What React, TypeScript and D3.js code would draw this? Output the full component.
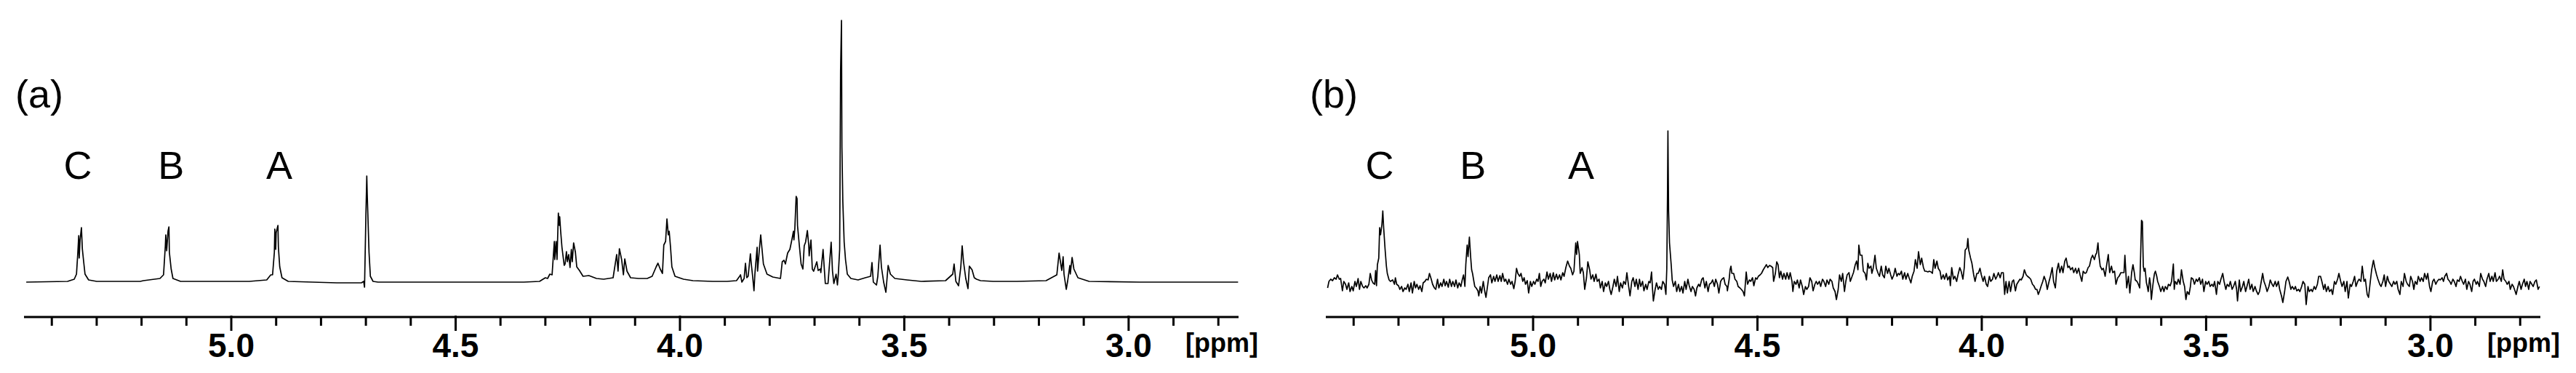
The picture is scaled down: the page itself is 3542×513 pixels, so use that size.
import React from 'react';
import * as d3 from 'd3';

const W = 3542;
const H = 513;

const panelLabels = ['(a)', '(b)'];
const signalLabels = ['C', 'B', 'A'];
const signalPpm = [5.342, 5.134, 4.893];
const majorTicks = [5.0, 4.5, 4.0, 3.5, 3.0];
const tickLabels = ['5.0', '4.5', '4.0', '3.5', '3.0'];
const minorTicks = [5.4, 5.3, 5.2, 5.1, 4.9, 4.8, 4.7, 4.6, 4.4, 4.3, 4.2, 4.1, 3.9, 3.8, 3.7, 3.6, 3.4, 3.3, 3.2, 3.1, 2.9, 2.8];
const ppmDomain = [5.462, 2.755];
const unitLabel = '[ppm]';

// (a) reference spectrum: [ppm, intensity]
const specA: [number, number][] = [
  [5.457,0],[5.365,1],[5.350,4],[5.345,11],[5.342,41],[5.340,64],[5.339,33],[5.337,58],[5.334,75],[5.332,46],[5.329,28],[5.326,11],[5.318,3],[5.300,1],
  [5.203,1],[5.196,2],[5.159,5],[5.151,10],[5.147,50],[5.146,65],[5.144,43],[5.141,70],[5.139,76],[5.138,41],[5.134,18],[5.130,5],[5.113,1],
  [4.960,1],[4.921,3],[4.912,10],[4.908,10],[4.904,41],[4.903,73],[4.901,45],[4.900,68],[4.896,78],[4.895,48],[4.892,21],[4.887,6],[4.873,1],
  [4.765,-1],[4.710,-1],[4.705,1],[4.703,-7],[4.700,91],[4.698,146],[4.697,121],[4.693,41],[4.690,8],[4.684,1],[4.673,0],
  [4.348,0],[4.313,1],[4.300,6],[4.295,5],[4.290,11],[4.285,10],[4.280,56],[4.279,31],[4.276,56],[4.274,31],[4.271,95],[4.269,78],[4.268,90],[4.266,71],
  [4.263,48],[4.258,23],[4.256,25],[4.253,42],[4.251,28],[4.248,38],[4.245,20],[4.242,45],[4.240,28],[4.237,54],[4.233,41],[4.230,21],[4.224,16],
  [4.216,8],[4.203,9],[4.186,5],[4.170,4],[4.149,6],[4.141,38],[4.138,15],[4.135,46],[4.130,31],[4.126,10],[4.123,32],[4.118,15],[4.110,6],
  [4.092,5],[4.073,5],[4.062,8],[4.053,21],[4.049,26],[4.044,18],[4.039,12],[4.036,51],[4.032,56],[4.029,87],[4.026,65],[4.024,70],[4.021,48],
  [4.018,21],[4.011,8],[3.992,4],[3.971,2],[3.927,1],[3.895,1],[3.874,2],[3.867,8],[3.865,10],[3.862,0],[3.857,5],[3.854,26],[3.851,6],[3.848,8],
  [3.843,39],[3.841,25],[3.838,8],[3.835,-12],[3.833,11],[3.828,48],[3.827,15],[3.823,45],[3.820,65],[3.817,45],[3.814,25],[3.806,11],[3.793,7],
  [3.776,5],[3.772,28],[3.768,30],[3.765,25],[3.760,40],[3.755,45],[3.754,48],[3.750,60],[3.747,70],[3.746,58],[3.744,73],[3.741,118],[3.739,115],
  [3.738,78],[3.734,51],[3.730,25],[3.726,18],[3.723,50],[3.720,55],[3.716,71],[3.713,51],[3.712,36],[3.708,58],[3.705,18],[3.702,15],[3.695,28],
  [3.692,16],[3.687,18],[3.686,13],[3.681,45],[3.679,25],[3.676,-2],[3.670,-2],[3.663,55],[3.660,15],[3.657,-2],[3.652,11],[3.649,-4],[3.647,11],
  [3.644,45],[3.642,291],[3.640,360],[3.639,185],[3.637,111],[3.634,55],[3.631,31],[3.627,11],[3.619,5],[3.603,3],[3.587,6],[3.575,8],[3.572,27],
  [3.569,0],[3.562,-4],[3.559,8],[3.554,51],[3.551,21],[3.546,0],[3.541,-14],[3.536,23],[3.531,11],[3.521,5],[3.494,3],[3.462,1],[3.408,2],
  [3.392,11],[3.389,25],[3.385,1],[3.379,-5],[3.374,21],[3.371,50],[3.368,28],[3.363,5],[3.358,-9],[3.355,22],[3.349,17],[3.344,6],[3.339,4],
  [3.330,2],[3.302,1],[3.249,1],[3.184,2],[3.160,10],[3.155,40],[3.149,16],[3.146,35],[3.144,11],[3.139,-10],[3.136,1],[3.131,23],[3.130,11],
  [3.126,34],[3.122,18],[3.113,6],[3.088,1],[2.976,0],[2.756,0]
];

// (b) noisy spectrum: [ppm, intensity]
const specB: [number, number][] = [
  [5.458,-6],[5.455,3],[5.451,6],[5.447,4],[5.443,8],[5.439,6],[5.436,12],[5.432,6],[5.429,7],[5.425,-10],[5.422,3],[5.418,-1],[5.415,-8],[5.411,1],
  [5.408,-11],[5.404,-4],[5.401,-10],[5.397,3],[5.394,-4],[5.390,7],[5.387,-8],[5.384,3],[5.380,-4],[5.377,-6],[5.373,-3],[5.370,-6],[5.366,-1],
  [5.363,14],[5.360,5],[5.357,1],[5.353,-1],[5.351,18],[5.349,-3],[5.347,26],[5.344,35],[5.342,77],[5.340,67],[5.337,81],[5.335,100],[5.333,76],
  [5.330,48],[5.327,24],[5.325,14],[5.321,5],[5.318,3],[5.313,5],[5.309,-1],[5.307,8],[5.304,-1],[5.300,-3],[5.297,-8],[5.293,-4],[5.290,-11],
  [5.286,-6],[5.283,-8],[5.279,-1],[5.276,-11],[5.272,1],[5.269,-13],[5.265,3],[5.262,-6],[5.259,-1],[5.255,-8],[5.252,-3],[5.248,-11],[5.245,1],
  [5.241,3],[5.238,6],[5.234,5],[5.231,14],[5.227,6],[5.224,-1],[5.220,-6],[5.217,-8],[5.213,6],[5.210,-6],[5.206,1],[5.203,-4],[5.199,6],
  [5.196,-3],[5.193,3],[5.189,-5],[5.186,6],[5.182,-4],[5.179,3],[5.175,-4],[5.172,5],[5.168,-6],[5.165,1],[5.161,-4],[5.158,5],[5.155,12],
  [5.152,-4],[5.150,26],[5.147,53],[5.145,37],[5.143,56],[5.142,64],[5.139,35],[5.137,19],[5.135,14],[5.132,3],[5.130,-4],[5.127,-6],[5.123,-10],
  [5.121,-17],[5.118,-4],[5.115,-13],[5.111,3],[5.108,-10],[5.105,-19],[5.101,-1],[5.099,8],[5.095,12],[5.092,1],[5.088,10],[5.085,3],[5.081,12],
  [5.078,3],[5.074,11],[5.071,3],[5.068,14],[5.064,3],[5.061,6],[5.057,-1],[5.054,6],[5.050,-1],[5.047,3],[5.043,-7],[5.040,3],[5.037,21],
  [5.034,14],[5.030,10],[5.027,14],[5.023,3],[5.020,8],[5.017,-1],[5.013,4],[5.010,-13],[5.006,3],[5.003,-4],[4.999,3],[4.996,-1],[4.992,6],
  [4.989,3],[4.986,14],[4.983,-4],[4.980,3],[4.976,6],[4.973,1],[4.969,16],[4.966,6],[4.962,14],[4.959,3],[4.955,15],[4.952,5],[4.948,13],
  [4.945,6],[4.941,12],[4.938,5],[4.934,15],[4.931,10],[4.927,22],[4.923,31],[4.919,24],[4.916,21],[4.912,12],[4.909,17],[4.905,56],[4.903,40],
  [4.901,58],[4.897,40],[4.895,14],[4.891,22],[4.888,15],[4.885,-8],[4.881,8],[4.878,30],[4.874,19],[4.871,6],[4.867,12],[4.864,3],[4.860,13],
  [4.857,3],[4.853,6],[4.850,-6],[4.846,3],[4.843,-11],[4.839,1],[4.836,-4],[4.832,3],[4.829,-8],[4.826,-15],[4.822,-4],[4.819,6],[4.815,-4],
  [4.812,10],[4.808,-11],[4.805,1],[4.801,-6],[4.798,3],[4.794,-1],[4.791,15],[4.787,-4],[4.784,-17],[4.780,3],[4.777,8],[4.773,-4],[4.770,6],
  [4.766,-8],[4.763,6],[4.760,-4],[4.756,3],[4.753,-10],[4.749,-1],[4.746,-8],[4.742,3],[4.739,1],[4.736,16],[4.734,-6],[4.732,-24],[4.728,-8],
  [4.725,1],[4.721,-8],[4.718,-4],[4.714,-8],[4.711,3],[4.707,-1],[4.704,-15],[4.702,21],[4.7005,120],[4.6995,210],[4.698,100],[4.696,56],
  [4.692,24],[4.690,5],[4.687,-4],[4.683,3],[4.680,-11],[4.676,-1],[4.673,-11],[4.669,-4],[4.666,-13],[4.662,3],[4.659,-8],[4.655,6],[4.652,-3],
  [4.648,-11],[4.645,-4],[4.641,-8],[4.638,-17],[4.635,-6],[4.631,-1],[4.628,-4],[4.624,6],[4.621,8],[4.617,-6],[4.614,3],[4.610,-11],[4.607,-1],
  [4.603,1],[4.600,5],[4.596,-4],[4.593,6],[4.589,-1],[4.586,-13],[4.582,3],[4.579,6],[4.575,8],[4.572,-1],[4.568,-4],
  [4.567,-10],[4.563,6],[4.561,19],[4.559,24],[4.557,14],[4.553,14],[4.550,6],[4.546,3],[4.543,-4],[4.539,-6],[4.536,-8],[4.532,-11],[4.529,-17],
  [4.525,16],[4.522,-1],[4.518,5],[4.515,3],[4.511,8],[4.508,-3],[4.504,8],[4.501,6],[4.498,10],[4.494,12],[4.491,14],[4.487,19],[4.484,22],
  [4.480,26],[4.477,22],[4.473,25],[4.470,24],[4.466,22],[4.464,3],[4.460,14],[4.457,30],[4.454,26],[4.451,8],[4.448,17],[4.444,6],[4.441,14],
  [4.437,6],[4.434,15],[4.430,6],[4.427,15],[4.423,3],[4.421,-11],[4.418,3],[4.414,-1],[4.411,5],[4.407,-6],[4.404,5],[4.400,-4],[4.397,-15],
  [4.393,-4],[4.390,-8],[4.386,-4],[4.383,8],[4.379,3],[4.376,-10],[4.372,-1],[4.369,3],[4.366,-1],[4.362,3],[4.359,-4],[4.355,6],[4.352,3],
  [4.348,-4],[4.345,5],[4.341,-1],[4.338,6],[4.334,3],[4.331,-6],[4.327,-11],[4.324,-22],[4.320,-8],[4.317,12],[4.313,3],[4.310,14],[4.306,-11],
  [4.303,3],[4.300,12],[4.296,15],[4.293,3],[4.289,10],[4.286,15],[4.282,26],[4.279,31],[4.276,19],[4.274,53],[4.271,39],[4.267,39],[4.264,17],
  [4.260,14],[4.257,5],[4.254,28],[4.251,21],[4.247,24],[4.245,14],[4.242,21],[4.238,39],[4.235,21],[4.231,14],[4.228,10],[4.224,24],[4.221,12],
  [4.217,8],[4.214,24],[4.210,14],[4.207,21],[4.203,12],[4.200,6],[4.196,12],[4.193,21],[4.189,10],[4.186,14],[4.183,12],[4.179,17],[4.176,6],
  [4.172,15],[4.169,6],[4.165,14],[4.162,8],[4.158,1],[4.155,10],[4.151,17],[4.148,33],[4.144,21],[4.141,44],[4.137,26],[4.134,35],[4.130,22],
  [4.127,17],[4.124,17],[4.120,16],[4.117,17],[4.113,16],[4.110,14],[4.107,33],[4.104,21],[4.100,31],[4.097,21],[4.093,17],[4.090,6],[4.086,12],
  [4.083,6],[4.079,14],[4.076,5],[4.072,10],[4.070,-3],[4.067,22],[4.063,6],[4.060,10],[4.056,3],[4.053,12],[4.049,22],[4.046,17],[4.042,6],
  [4.039,22],[4.037,46],[4.033,49],[4.031,62],[4.029,46],[4.025,35],[4.022,28],[4.018,12],[4.015,3],[4.011,14],[4.008,14],[4.004,21],[4.001,12],
  [3.997,3],[3.994,10],[3.990,-1],[3.987,-4],[3.983,10],[3.980,3],[3.976,6],[3.973,14],[3.969,6],[3.966,10],[3.963,15],[3.959,8],[3.956,15],
  [3.952,15],[3.949,-15],[3.946,3],[3.943,-13],[3.939,3],[3.936,-11],[3.932,3],[3.929,5],[3.925,-10],[3.922,-1],[3.918,3],[3.915,6],[3.912,5],
  [3.908,10],[3.905,19],[3.901,12],[3.898,10],[3.894,8],[3.891,6],[3.887,-1],[3.884,-3],[3.880,-8],[3.877,-8],[3.874,-15],[3.871,-10],[3.868,-4],
  [3.864,3],[3.861,10],[3.857,3],[3.854,-8],[3.850,3],[3.847,10],[3.843,22],[3.840,3],[3.836,-6],[3.833,17],[3.829,28],[3.826,15],[3.822,24],
  [3.819,15],[3.815,31],[3.812,35],[3.808,22],[3.805,24],[3.802,19],[3.798,22],[3.795,15],[3.791,21],[3.788,14],[3.784,21],[3.781,12],[3.777,3],
  [3.774,17],[3.770,14],[3.767,15],[3.763,22],[3.760,24],[3.756,35],[3.753,39],[3.749,33],[3.746,40],[3.744,42],[3.741,56],[3.739,39],[3.736,24],
  [3.732,19],[3.729,21],[3.725,10],[3.722,24],[3.718,40],[3.715,15],[3.711,24],[3.708,15],[3.704,17],[3.701,-1],[3.697,8],[3.694,10],[3.690,15],
  [3.687,15],[3.683,15],[3.681,39],[3.679,17],[3.677,-6],[3.673,10],[3.670,-13],[3.666,15],[3.663,26],
  [3.660,15],[3.658,5],[3.654,3],[3.651,-1],[3.648,-6],[3.646,37],[3.644,87],[3.642,85],[3.640,24],[3.638,17],[3.636,21],[3.633,1],[3.631,-4],
  [3.629,-11],[3.626,8],[3.624,-1],[3.622,-22],[3.619,-4],[3.617,6],[3.615,14],[3.613,17],[3.610,10],[3.608,3],[3.604,-4],[3.601,-11],[3.597,-4],
  [3.594,-11],[3.591,-4],[3.587,-8],[3.584,-1],[3.580,-3],[3.577,3],[3.573,27],[3.571,-8],[3.569,3],[3.565,-1],[3.562,6],[3.558,-1],[3.555,19],
  [3.551,3],[3.548,-4],[3.545,-22],[3.542,-11],[3.538,-15],[3.535,-4],[3.533,8],[3.529,6],[3.526,-1],[3.522,6],[3.519,3],[3.515,8],[3.512,-1],
  [3.508,6],[3.505,-11],[3.501,3],[3.498,-1],[3.494,3],[3.491,-4],[3.487,-1],[3.484,-4],[3.481,3],[3.477,-15],[3.474,3],[3.470,-1],[3.467,6],
  [3.463,14],[3.460,3],[3.456,-8],[3.453,-1],[3.449,-4],[3.446,3],[3.442,-8],[3.439,-4],[3.435,3],[3.432,-8],[3.430,-24],[3.426,5],[3.423,-11],
  [3.419,-4],[3.416,3],[3.412,-11],[3.409,-4],[3.405,6],[3.402,-8],[3.398,-1],[3.395,-11],[3.391,-4],[3.388,-10],[3.384,-15],[3.381,-11],[3.377,3],
  [3.374,14],[3.371,3],[3.367,-4],[3.364,-11],[3.360,-4],[3.357,5],[3.353,-1],[3.350,-4],[3.346,3],[3.343,-4],[3.339,3],[3.336,-8],[3.332,-17],
  [3.329,-26],[3.325,-11],[3.322,3],[3.318,9],[3.315,3],[3.311,-8],[3.308,-4],[3.304,-8],[3.301,-4],[3.298,-10],[3.294,-8],[3.291,-11],[3.287,-4],
  [3.284,3],[3.280,-1],[3.277,-29],[3.273,-4],[3.270,-11],[3.266,-8],[3.263,-11],[3.259,-4],[3.256,-8],[3.252,-1],[3.249,10],[3.245,10],[3.242,3],
  [3.238,-8],[3.235,-1],[3.232,-11],[3.228,-4],[3.225,-11],[3.221,-8],[3.218,-15],[3.214,3],[3.211,-1],[3.207,6],[3.204,14],[3.200,3],[3.197,-4],
  [3.193,3],[3.190,-11],[3.186,3],[3.183,-20],[3.179,-1],[3.176,-4],[3.172,3],[3.169,10],[3.166,-4],[3.162,3],[3.159,6],[3.155,3],[3.152,24],
  [3.148,3],[3.145,6],[3.141,-15],[3.138,-19],[3.134,3],[3.131,19],[3.127,32],[3.124,22],[3.120,12],[3.117,6],[3.113,-1],[3.110,-4],[3.106,3],
  [3.103,12],[3.100,-4],[3.096,10],[3.093,3],[3.089,-1],[3.086,-4],[3.082,3],[3.079,-1],[3.075,3],[3.072,-8],[3.068,-15],[3.065,3],[3.061,-4],
  [3.058,14],[3.054,3],[3.051,-1],[3.047,-4],[3.044,10],[3.040,3],[3.037,-8],[3.034,3],[3.030,-1],[3.027,10],[3.023,3],[3.020,8],[3.016,3],
  [3.013,14],[3.009,6],[3.006,14],[3.002,-4],[2.999,-11],[2.995,3],[2.992,6],[2.988,-1],[2.985,3],[2.981,6],[2.978,5],[2.974,8],[2.971,3],
  [2.968,10],[2.964,14],[2.961,6],[2.957,3],[2.954,-1],[2.950,6],[2.947,3],[2.943,-4],[2.940,5],[2.936,3],[2.933,10],[2.929,3],[2.926,-1],
  [2.922,6],[2.919,-8],[2.915,3],[2.912,-1],[2.908,-11],[2.905,3],[2.902,6],[2.898,-1],[2.895,3],[2.891,-4],[2.888,14],[2.884,6],[2.881,3],
  [2.877,-4],[2.874,6],[2.870,14],[2.867,3],[2.863,10],[2.860,3],[2.856,15],[2.853,3],[2.849,6],[2.846,10],[2.842,3],[2.839,19],[2.836,6],
  [2.832,3],[2.829,-1],[2.825,3],[2.822,-8],[2.818,-1],[2.815,-4],[2.811,-11],[2.809,-15],[2.805,-4],[2.802,3],[2.798,-8],[2.795,-1],[2.791,6],
  [2.788,-4],[2.785,3],[2.781,-8],[2.778,3],[2.774,-1],[2.771,-4],[2.767,3],[2.764,5],[2.760,-8],[2.757,-4]
];

const panels = [
  { label: panelLabels[0], data: specA, x0: 33, x1: 1703, base: 388, axisY: 436, labelX: 21 },
  { label: panelLabels[1], data: specB, x0: 1823, x1: 3493, base: 390, axisY: 436, labelX: 1801 },
];

const FONT = '"Liberation Sans", Arial, Helvetica, sans-serif';

function Panel({ p }: { p: typeof panels[number] }) {
  const x = d3.scaleLinear().domain(ppmDomain).range([p.x0, p.x1]);
  const y = d3.scaleLinear().domain([0, 360]).range([p.base, p.base - 360]);
  const line = d3.line<[number, number]>().x(d => x(d[0])).y(d => y(d[1]));
  return (
    <g>
      <text x={p.labelX} y={148} fontFamily={FONT} fontSize={54} fill="#000">{p.label}</text>
      {signalLabels.map((s, i) => (
        <text key={s} x={x(signalPpm[i])} y={246} textAnchor="middle" fontFamily={FONT} fontSize={54} fill="#000">{s}</text>
      ))}
      <path d={line(p.data) || ''} fill="none" stroke="#000" strokeWidth={1.7} strokeLinejoin="round" />
      <line x1={p.x0} x2={p.x1} y1={p.axisY} y2={p.axisY} stroke="#000" strokeWidth={3} />
      {minorTicks.map(t => (
        <line key={'m' + t} x1={x(t)} x2={x(t)} y1={p.axisY} y2={p.axisY + 12} stroke="#000" strokeWidth={3} />
      ))}
      {majorTicks.map((t, i) => (
        <g key={'M' + t}>
          <line x1={x(t)} x2={x(t)} y1={p.axisY - 2} y2={p.axisY + 19} stroke="#000" strokeWidth={3} />
          <text x={x(t)} y={491} textAnchor="middle" fontFamily={FONT} fontWeight="bold" fontSize={46} fill="#000">{tickLabels[i]}</text>
        </g>
      ))}
      <text x={p.x1 - 73} y={484} fontFamily={FONT} fontWeight="bold" fontSize={36} fill="#000">{unitLabel}</text>
    </g>
  );
}

export default function App() {
  return (
    <svg width={W} height={H} viewBox={`0 0 ${W} ${H}`} style={{ position: 'absolute', left: 0, top: 0, background: '#fff' }}>
      <rect x={0} y={0} width={W} height={H} fill="#fff" />
      {panels.map(p => <Panel key={p.label} p={p} />)}
    </svg>
  );
}
